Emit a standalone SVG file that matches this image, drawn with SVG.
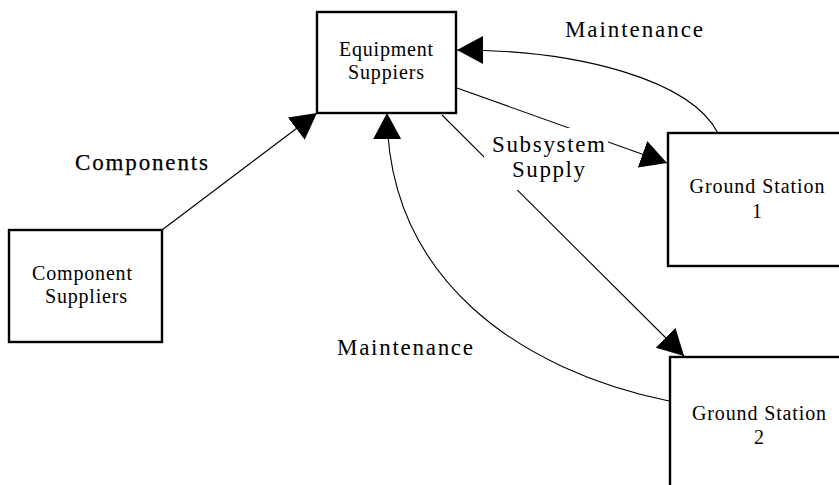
<svg xmlns="http://www.w3.org/2000/svg" width="839" height="485" viewBox="0 0 839 485">
  <style>
    .box { fill: #fff; stroke: #000; stroke-width: 2.4; }
    .edge { fill: none; stroke: #000; stroke-width: 1.1; marker-end: url(#head); }
    .lbl { font-family: "Liberation Serif", "Times New Roman", serif; font-size: 23px; fill: #000; }
    .txt { font-family: "Liberation Serif", "Times New Roman", serif; font-size: 20px; fill: #000; text-anchor: middle; }
  </style>
  <defs>
    <marker id="head" viewBox="0 0 26 28" refX="26" refY="14" markerWidth="26" markerHeight="28" markerUnits="userSpaceOnUse" orient="auto">
      <path d="M0,0 L26,14 L0,28 Z" fill="#000"/>
    </marker>
  </defs>
  <rect width="839" height="485" fill="#fff"/>

  <!-- connectors -->
  <g id="connectors">
    <path class="edge" d="M162,230 L317,113"/>
    <path class="edge" d="M457,88 L667,163"/>
    <path class="edge" d="M442,115 L684,356"/>
    <path class="edge" d="M718,133 C690,80 580,50 457,50"/>
    <path class="edge" d="M669,401 C520,370 388,280 387,113"/>
  </g>

  <!-- edge labels -->
  <g id="labels">
    <rect x="484" y="128" width="124" height="62" fill="#fff"/>
    <text class="lbl" x="492" y="152" textLength="113">Subsystem</text>
    <text class="lbl" x="512" y="177" textLength="73">Supply</text>
    <text class="lbl" x="565" y="37" textLength="138">Maintenance</text>
    <text class="lbl" x="337" y="355" textLength="136">Maintenance</text>
    <text class="lbl" x="75" y="170" textLength="133" stroke="#000" stroke-width="0.25">Components</text>
  </g>

  <g id="equipment-suppliers">
    <rect class="box" x="317" y="12" width="139" height="101"/>
    <text class="txt" x="386" y="56" textLength="94">Equipment</text>
    <text class="txt" x="386" y="79" textLength="76">Suppiers</text>
  </g>

  <g id="component-suppliers">
    <rect class="box" x="9" y="230" width="153" height="112"/>
    <text class="txt" x="82" y="280" textLength="100">Component</text>
    <text class="txt" x="86" y="303" textLength="82">Suppliers</text>
  </g>

  <g id="ground-station-1">
    <rect class="box" x="668" y="133" width="190" height="133"/>
    <text class="txt" x="757" y="193" textLength="135">Ground Station</text>
    <text class="txt" x="757" y="218">1</text>
  </g>

  <g id="ground-station-2">
    <rect class="box" x="670" y="357" width="190" height="140"/>
    <text class="txt" x="759" y="420" textLength="134">Ground Station</text>
    <text class="txt" x="759" y="444">2</text>
  </g>
</svg>
